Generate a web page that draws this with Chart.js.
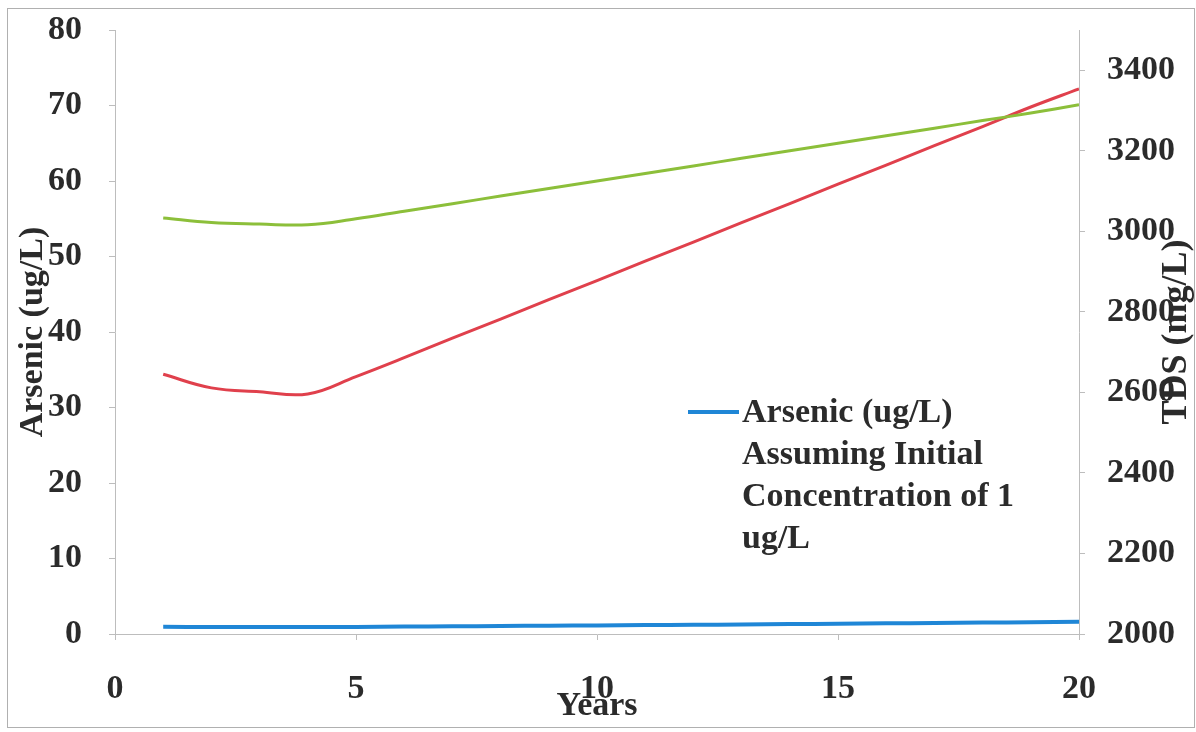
<!DOCTYPE html>
<html><head><meta charset="utf-8">
<script src="https://cdn.jsdelivr.net/npm/chart.js@4.4.1/dist/chart.umd.min.js"></script>
<style>html,body{margin:0;padding:0;background:#fff}#wrap{width:1196px;height:732px;position:relative}</style>
</head><body><div id="wrap"><canvas id="c" width="1196" height="732"></canvas></div>
<script>
// ---- data ----
const years = [1,2,3,4,5,6,7,8,9,10,11,12,13,14,15,16,17,18,19,20];
const arsenicInit1 = [0.95,0.93,0.92,0.92,0.94,0.98,1.02,1.06,1.10,1.14,1.18,1.22,1.26,1.31,1.36,1.41,1.46,1.51,1.56,1.62];
const greenSeries = [55.1,54.5,54.3,54.2,55.0,56.0,57.0,58.0,59.0,60.0,61.0,62.0,63.0,64.0,65.0,66.0,67.0,68.0,69.0,70.1];
const redSeries = [34.4,32.6,32.1,31.8,34.1,36.6,39.2,41.7,44.3,46.8,49.4,51.9,54.5,57.0,59.6,62.1,64.7,67.2,69.8,72.2];
const legendLines = ["Arsenic (ug/L)", "Assuming Initial", "Concentration of 1", "ug/L"];
const xTitle = "Years";
const yTitle = "Arsenic (ug/L)";
const y1Title = "TDS (mg/L)";

const FONT = "'Liberation Serif', 'Times New Roman', serif";
const TXT = '#2b2b2b';
const AXIS = '#bdbdbd';

const frame = {
  id: 'frame',
  beforeDraw(chart) {
    const c = chart.ctx;
    c.save();
    c.fillStyle = '#fff';
    c.fillRect(0, 0, chart.width, chart.height);
    c.strokeStyle = '#b0b0b0';
    c.lineWidth = 1;
    c.strokeRect(7.5, 8.5, 1187, 719);
    c.restore();
  }
};

const extras = {
  id: 'extras',
  afterDraw(chart) {
    const c = chart.ctx;
    const area = chart.chartArea;
    c.save();
    // right axis title, reading bottom-to-top
    c.font = 'bold 36px ' + FONT;
    c.fillStyle = TXT;
    c.textAlign = 'center';
    c.textBaseline = 'middle';
    c.translate(1177, (area.top + area.bottom) / 2);
    c.rotate(-Math.PI / 2);
    c.fillText(y1Title, 0, 0);
    c.restore();

    // legend (only the blue series)
    const ds = chart.data.datasets[0];
    c.save();
    c.strokeStyle = ds.borderColor;
    c.lineWidth = 4;
    c.beginPath();
    c.moveTo(688, 412);
    c.lineTo(739, 412);
    c.stroke();
    c.font = 'bold 34px ' + FONT;
    c.fillStyle = TXT;
    c.textAlign = 'left';
    c.textBaseline = 'middle';
    legendLines.forEach((t, i) => c.fillText(t, 742, 413 + i * 42));
    c.restore();
  }
};

const tickFont = { family: FONT, size: 34, weight: 'bold' };

new Chart(document.getElementById('c'), {
  type: 'line',
  data: {
    datasets: [
      { label: legendLines.join(' '), data: years.map((x, i) => ({ x, y: arsenicInit1[i] })),
        borderColor: '#1f86d6', borderWidth: 4, pointRadius: 0, tension: 0.4, yAxisID: 'y' },
      { label: 'Series 2', data: years.map((x, i) => ({ x, y: greenSeries[i] })),
        borderColor: '#8cbf3a', borderWidth: 3, pointRadius: 0, tension: 0.4, yAxisID: 'y' },
      { label: 'Series 3', data: years.map((x, i) => ({ x, y: redSeries[i] })),
        borderColor: '#e0404c', borderWidth: 3, pointRadius: 0, tension: 0.4, yAxisID: 'y' }
    ]
  },
  options: {
    responsive: false,
    animation: false,
    layout: { padding: { top: 30, right: 0, bottom: 0, left: 0 } },
    plugins: { legend: { display: false }, tooltip: { enabled: false } },
    scales: {
      x: {
        type: 'linear', min: 0, max: 20,
        ticks: { stepSize: 5, font: tickFont, color: TXT, padding: 29 },
        grid: { drawOnChartArea: false, drawTicks: true, tickLength: 6, color: AXIS },
        border: { color: AXIS },
        title: { display: true, text: xTitle, font: tickFont, color: TXT, padding: { top: 0, bottom: 5 } },
        afterFit(s) { s.height = 98; s.paddingLeft = 0; s.paddingRight = 0; }
      },
      y: {
        position: 'left', min: 0, max: 80,
        ticks: { stepSize: 10, font: tickFont, color: TXT, padding: 27 },
        grid: { drawOnChartArea: false, drawTicks: true, tickLength: 6, color: AXIS },
        border: { color: AXIS },
        title: { display: true, text: yTitle, font: tickFont, color: TXT, padding: { top: 13, bottom: 0 } },
        afterFit(s) { s.width = 115; s.paddingTop = 0; s.paddingBottom = 0; }
      },
      y1: {
        position: 'right', min: 2000, max: 3500,
        ticks: { stepSize: 200, includeBounds: false, font: tickFont, color: TXT, padding: 22,
                 callback: (v) => String(v) },
        grid: { drawOnChartArea: false, drawTicks: true, tickLength: 6, color: AXIS },
        border: { color: AXIS },
        afterFit(s) { s.width = 117; s.paddingTop = 0; s.paddingBottom = 0; }
      }
    }
  },
  plugins: [frame, extras]
});
</script>
</body></html>
